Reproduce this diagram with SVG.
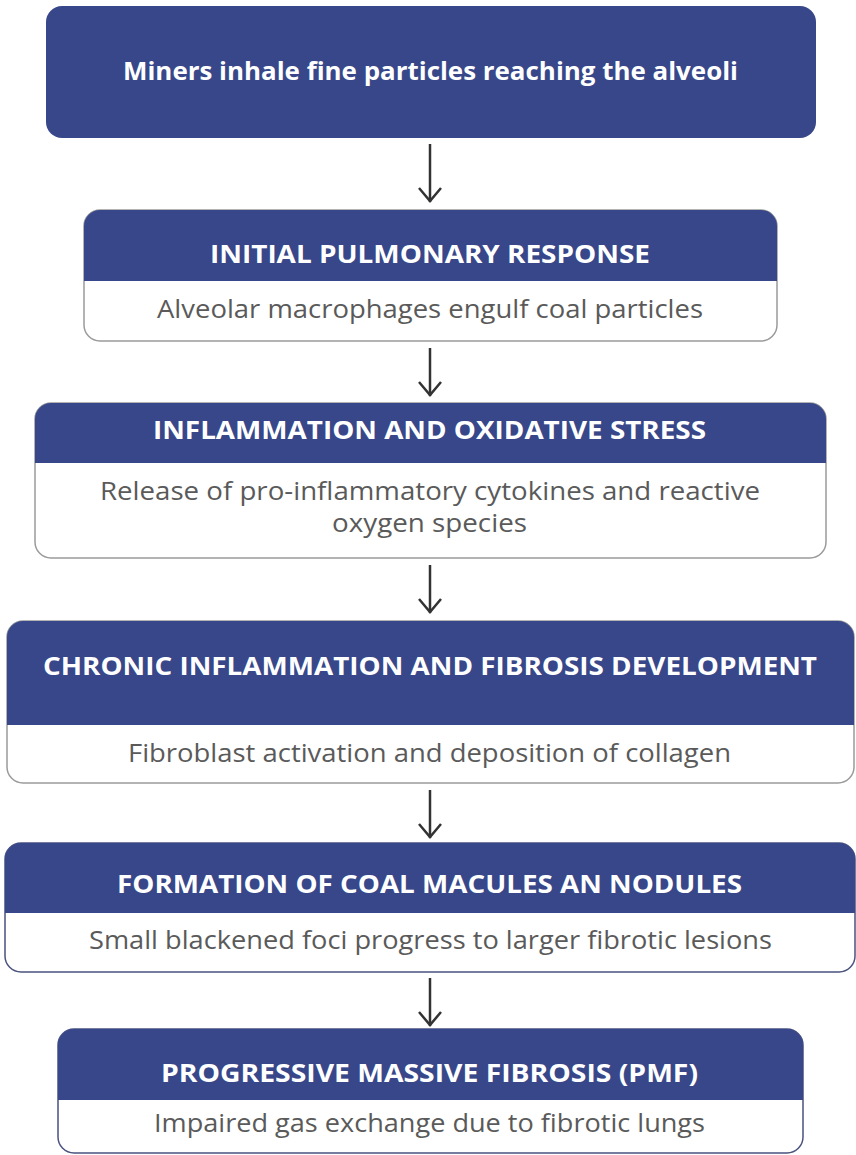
<svg xmlns="http://www.w3.org/2000/svg" width="856" height="1155" viewBox="0 0 856 1155">
<defs>
<style>
.hdr{fill:#37478a}
.card{fill:#ffffff;stroke:#9a9a9a;stroke-width:1.5}
.card2{fill:#ffffff;stroke:#4a527e;stroke-width:1.5}
.t{font-family:"Open Sans","Liberation Sans",sans-serif;font-weight:bold;font-size:25px;fill:#ffffff;text-anchor:middle}
.b{font-family:"Open Sans","Liberation Sans",sans-serif;font-size:25px;fill:#5a5a5a;text-anchor:middle}
.arr{stroke:#333333;stroke-width:2.5;fill:none}
</style>
</defs>
<rect width="856" height="1155" fill="#ffffff"/>
<g id="connectors">
<line class="arr" x1="430" y1="144" x2="430" y2="202"/>
<path class="arr" d="M419,188 L430,201 L441,188"/>
<line class="arr" x1="430" y1="348" x2="430" y2="396"/>
<path class="arr" d="M419,382 L430,395 L441,382"/>
<line class="arr" x1="430" y1="565" x2="430" y2="613"/>
<path class="arr" d="M419,599 L430,612 L441,599"/>
<line class="arr" x1="430" y1="790" x2="430" y2="838"/>
<path class="arr" d="M419,824 L430,837 L441,824"/>
<line class="arr" x1="430" y1="978" x2="430" y2="1026"/>
<path class="arr" d="M419,1012 L430,1025 L441,1012"/>
</g>
<g id="node1">
<rect x="46" y="6" width="770" height="132" rx="16" class="hdr"/>
<text class="t" x="430.5" y="80" font-size="24" textLength="615" lengthAdjust="spacingAndGlyphs">Miners inhale fine particles reaching the alveoli</text>
</g>
<g id="node2">
<rect class="card" x="84" y="210" width="693" height="131" rx="16"/>
<path class="hdr" d="M84,281 V226 A16,16 0 0 1 100,210 H761 A16,16 0 0 1 777,226 V281 Z"/>
<text class="t" x="430" y="263" textLength="440" lengthAdjust="spacingAndGlyphs">INITIAL PULMONARY RESPONSE</text>
<text class="b" x="430" y="318" textLength="546" lengthAdjust="spacingAndGlyphs">Alveolar macrophages engulf coal particles</text>
</g>
<g id="node3">
<rect class="card" x="35" y="403" width="791" height="155" rx="16"/>
<path class="hdr" d="M35,463 V419 A16,16 0 0 1 51,403 H810 A16,16 0 0 1 826,419 V463 Z"/>
<text class="t" x="429.5" y="439" textLength="553" lengthAdjust="spacingAndGlyphs">INFLAMMATION AND OXIDATIVE STRESS</text>
<text class="b" x="430" y="500" font-size="23" textLength="660" lengthAdjust="spacingAndGlyphs">Release of pro-inflammatory cytokines and reactive</text>
<text class="b" x="429.5" y="532" font-size="23" textLength="195" lengthAdjust="spacingAndGlyphs">oxygen species</text>
</g>
<g id="node4">
<rect class="card" x="7" y="621" width="847" height="162" rx="16"/>
<path class="hdr" d="M7,725 V637 A16,16 0 0 1 23,621 H838 A16,16 0 0 1 854,637 V725 Z"/>
<text class="t" x="430" y="675" textLength="774" lengthAdjust="spacingAndGlyphs">CHRONIC INFLAMMATION AND FIBROSIS DEVELOPMENT</text>
<text class="b" x="429.5" y="762" textLength="603" lengthAdjust="spacingAndGlyphs">Fibroblast activation and deposition of collagen</text>
</g>
<g id="node5">
<rect class="card2" x="5" y="843" width="850" height="129" rx="16"/>
<path class="hdr" d="M5,913 V859 A16,16 0 0 1 21,843 H839 A16,16 0 0 1 855,859 V913 Z"/>
<text class="t" x="429.5" y="893" textLength="625" lengthAdjust="spacingAndGlyphs">FORMATION OF COAL MACULES AN NODULES</text>
<text class="b" x="430.5" y="949" textLength="683" lengthAdjust="spacingAndGlyphs">Small blackened foci progress to larger fibrotic lesions</text>
</g>
<g id="node6">
<rect class="card2" x="58" y="1029" width="745" height="124" rx="16"/>
<path class="hdr" d="M58,1100 V1045 A16,16 0 0 1 74,1029 H787 A16,16 0 0 1 803,1045 V1100 Z"/>
<text class="t" x="429.5" y="1082" textLength="537" lengthAdjust="spacingAndGlyphs">PROGRESSIVE MASSIVE FIBROSIS (PMF)</text>
<text class="b" x="429.5" y="1132" textLength="551" lengthAdjust="spacingAndGlyphs">Impaired gas exchange due to fibrotic lungs</text>
</g>
</svg>
